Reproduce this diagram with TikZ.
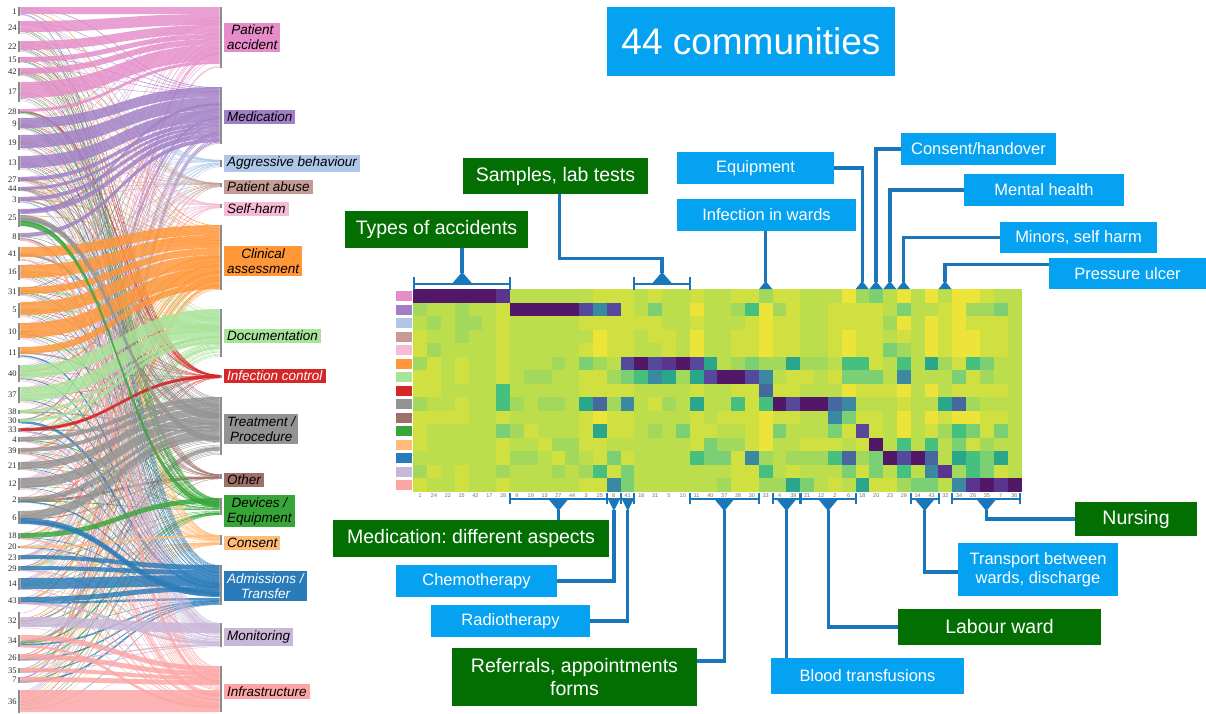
\documentclass[tikz,border=0pt]{standalone}
\usepackage{fontspec}
\setmainfont{Liberation Sans}
\newfontfamily\serifnum{Liberation Serif}
\frenchspacing
\definecolor{cat0}{HTML}{E58CC9}
\definecolor{cat1}{HTML}{A17FC6}
\definecolor{cat2}{HTML}{AEC7E8}
\definecolor{cat3}{HTML}{C49C94}
\definecolor{cat4}{HTML}{F7BBD6}
\definecolor{cat5}{HTML}{FF9638}
\definecolor{cat6}{HTML}{A8E39A}
\definecolor{cat7}{HTML}{D62728}
\definecolor{cat8}{HTML}{939393}
\definecolor{cat9}{HTML}{A07068}
\definecolor{cat10}{HTML}{38A538}
\definecolor{cat11}{HTML}{FFBB78}
\definecolor{cat12}{HTML}{2A7BB9}
\definecolor{cat13}{HTML}{C9B6D9}
\definecolor{cat14}{HTML}{FCA5A4}
\definecolor{hmY}{HTML}{EDE43A}
\definecolor{hmy}{HTML}{D0E040}
\definecolor{hmg}{HTML}{BCDD4C}
\definecolor{hmG}{HTML}{A2D95C}
\definecolor{hmm}{HTML}{7AD072}
\definecolor{hmt}{HTML}{45C07F}
\definecolor{hmT}{HTML}{2AA68A}
\definecolor{hmc}{HTML}{3A89A0}
\definecolor{hmb}{HTML}{46689E}
\definecolor{hmp}{HTML}{56489A}
\definecolor{hmP}{HTML}{5B3490}
\definecolor{hmd}{HTML}{531767}
\definecolor{cblue}{HTML}{06A2F2}
\definecolor{cgreen}{HTML}{036F03}
\definecolor{conblue}{HTML}{1A76BB}
\makeatletter
\newcount\hmcol
\newcommand\hmrow[2]{\global\hmcol=0 \hm@loop{#1}#2\relax}
\def\hm@loop#1#2{%
  \ifx\relax#2\let\hm@next\relax\else
    \edef\hm@c{\the\hmcol}%
    \ifnum\hmcol<44 \hmaction{#1}{\hm@c}{#2}\fi
    \global\advance\hmcol by 1
    \def\hm@next{\hm@loop{#1}}%
  \fi\hm@next}
\makeatother
\newcommand\allrows{%
\hmrow{0}{ddddddPgggg ggyyygyggyg gyyGyygggYG mgYgYgYYygg}%
\hmrow{1}{GggGggydddd dpcpygmggYg gGtYGyggyyy ygmggyYGGmg}%
\hmrow{2}{gGgGGgygggg gyyyyyyggyg ggyYyyggyyy yGYgYyYyyyg}%
\hmrow{3}{yggGggygggg ggYyygyygYg gyyYyyggyYy ygygYyYYyyg}%
\hmrow{4}{yGggggygggg gyYyyggygYg gyyYyyggyYy ymGgYyYYyyg}%
\hmrow{5}{GygyggygggG gmGgpdpPdpT gGmGGTGGgtt ygtgTGytmgg}%
\hmrow{6}{yygyggygGGg gyyGmtcTGTp ddpcgyygymm mgcgggmyGgg}%
\hmrow{7}{yyggggtgggg gyyyyggggyg gyybyygggYy yyYgYgyyyyg}%
\hmrow{8}{GggyggtGgGG gTbGcgyGgTg gtytdpddbcg ggyggTbGggg}%
\hmrow{9}{yyyyggygggg gyYyyggggyg yyyYyyggcmy ygYgYyYYyyg}%
\hmrow{10}{ygggggmGygg gyTyygGgmyy ggyYmgggmyp ygYgyGtmymg}%
\hmrow{11}{ygggggyggyG Gyyggggggym GGyYggyyygy dgtgtgmyGgg}%
\hmrow{12}{ggggggyGGgy Ggymyggggtm mycGgGGGtbG mdpdbgTtmTg}%
\hmrow{13}{GygyggGgggG gGtymgggggg gyytgygggmy mgtgcPGtmyg}%
\hmrow{14}{yggyggygggg gyycmgggggg GyyGGTmgygT yyGmmgcPdPd}}
\newcommand\ribbon[5]{\fill[#5,opacity=.82] (20.3,#1) .. controls (120,#1) and (120,#3) .. (219.5,#3) -- (219.5,#4) .. controls (120,#4) and (120,#2) .. (20.3,#2) -- cycle;}
\begin{document}
\begin{tikzpicture}[x=1pt,y=-1pt,
  con/.style={conblue,line width=3.4pt},
  brk/.style={conblue,line width=2pt},
  bluebox/.style={fill=cblue,text=white,font=\fontsize{16.5}{19}\selectfont,inner sep=0pt,align=center},
  greenbox/.style={fill=cgreen,text=white,font=\fontsize{19.5}{23}\selectfont,inner sep=0pt,align=center},
  catlab/.style={anchor=west,font=\fontsize{13.5}{15}\selectfont\itshape,inner xsep=3pt,inner ysep=2.5pt,align=center},
  numlab/.style={anchor=east,font=\serifnum\fontsize{8.5}{9}\selectfont,inner sep=0pt,text=black!85},
  collab/.style={font=\fontsize{5.5}{6}\selectfont,text=black!55,inner sep=0pt}]
\useasboundingbox (0,0) rectangle (1206,713);
\fill[white] (0,0) rectangle (1206,713);
\def\LY{{11.5,27.5,46.5,60,72,92,111.5,124,142.5,163,179.5,189,200,218,236.5,254,272,291.5,310,331.5,352.5,373.5,395,412,421,430,439.5,451,466,484,500,517.5,536,547,557.5,568.5,584,600.5,620.5,641,657.5,670.5,680,701.5}}
\def\LH{{9,13,11,6,8,20,5,12,15,14,5,4,6,18,7,14,15,9,15,17,11,17,16,4,4,4,5,6,8,12,6,13,6,2,5,5,12,7,17,12,7,5,6,23}}
\def\CT{{7,87,160,183,204,225,309,375,397,474,498,535,565,623,666}}
\def\CB{{68,144,167,187,208,290,357,378,455,479,515,545,605,647,712}}
% sankey thin flows
\def\skwb{2.4pt}\def\skwc{2.4pt}\def\skwT{1.6pt}\def\skwt{1.3pt}\def\skwm{0.85pt}\def\skwG{0.6pt}\def\skwg{0.4pt}
\def\hmaction#1#2#3{\ifcsname skw#3\endcsname
  \pgfmathsetmacro\sly{\LY[#2]+\LH[#2]*((#1-7)/16)}%
  \pgfmathsetmacro\sty{\CT[#1]+(\CB[#1]-\CT[#1])*(#2+0.5)/44}%
  \draw[cat#1,line width=\csname skw#3\endcsname,opacity=.8] (20.3,\sly) .. controls (120,\sly) and (120,\sty) .. (219.5,\sty);%
  \fi}
\allrows
% main ribbons
\ribbon{7}{14}{7}{14}{cat0}
\ribbon{21}{32}{14}{25}{cat0}
\ribbon{41}{50}{25}{34}{cat0}
\ribbon{57}{62}{34}{39}{cat0}
\ribbon{68}{74}{39}{45}{cat0}
\ribbon{82}{98}{45}{61}{cat0}
\ribbon{109}{112}{61}{64}{cat0}
\ribbon{118}{128}{87}{97}{cat1}
\ribbon{135}{148}{97}{110}{cat1}
\ribbon{156}{168}{110}{122}{cat1}
\ribbon{177}{181}{122}{126}{cat1}
\ribbon{187}{190}{126}{129}{cat1}
\ribbon{197}{201}{129}{133}{cat1}
\ribbon{209}{214}{133}{138}{cat1}
\ribbon{233}{237}{138}{142}{cat1}
\ribbon{247}{257}{225}{235}{cat5}
\ribbon{265}{278}{235}{248}{cat5}
\ribbon{287}{294}{248}{255}{cat5}
\ribbon{302}{315}{255}{268}{cat5}
\ribbon{323}{338}{268}{283}{cat5}
\ribbon{347}{354}{283}{289}{cat5}
\ribbon{365}{378}{309}{322}{cat6}
\ribbon{387}{401}{322}{336}{cat6}
\ribbon{410}{413}{336}{340}{cat6}
\ribbon{419}{422}{340}{344}{cat6}
\ribbon{428}{431}{375}{378}{cat7}
\ribbon{437}{441}{397}{402}{cat8}
\ribbon{448}{452}{402}{407}{cat8}
\ribbon{462}{469}{407}{415}{cat8}
\ribbon{478}{488}{415}{425}{cat8}
\ribbon{497}{501}{425}{429}{cat8}
\ribbon{511}{518}{429}{436}{cat8}
\ribbon{215}{221}{436}{442}{cat8}
\ribbon{221}{226}{503}{508}{cat10}
\ribbon{533}{538}{498}{503}{cat10}
\ribbon{546}{548}{535}{537}{cat11}
\ribbon{555}{559}{565}{570}{cat12}
\ribbon{566}{570}{570}{575}{cat12}
\ribbon{578}{589}{575}{586}{cat12}
\ribbon{597}{602}{586}{591}{cat12}
\ribbon{518}{524}{591}{597}{cat12}
\ribbon{617}{627}{623}{633}{cat13}
\ribbon{635}{640}{666}{671}{cat14}
\ribbon{654}{659}{671}{676}{cat14}
\ribbon{668}{672}{676}{680}{cat14}
\ribbon{677}{682}{680}{685}{cat14}
\ribbon{690}{712}{690}{712}{cat14}
% left nodes, numbers, column labels
\foreach \lab [count=\i from 0] in {1,24,22,15,42,17,28,9,19,13,27,44,3,25,8,41,16,31,5,10,11,40,37,38,30,33,4,39,21,12,2,6,18,20,23,29,14,43,32,34,26,35,7,36} {
  \pgfmathsetmacro\yc{\LY[\i]}\pgfmathsetmacro\hh{\LH[\i]}
  \fill[black!45] (18.3,{\yc-\hh/2}) rectangle (20.3,{\yc+\hh/2});
  \node[numlab] (n\lab) at (16.8,\yc) {\lab};
  \node[collab] (c\lab) at ({413.3+13.82*(\i+0.5)},495.5) {\lab};
}
% category bars
\foreach \t/\b in {7/68,87/144,160/167,183/187,204/208,225/290,309/357,375/378,397/455,474/479,498/515,535/545,565/605,623/647,666/712}
  \fill[black!45] (219.5,\t) rectangle (222,\b);
% category labels
\node[catlab,fill=cat0] (lpa) at (224,37.5) {Patient\\accident};
\node[catlab,fill=cat1] (lmed) at (224,117) {Medication};
\node[catlab,fill=cat2] (lagg) at (224,163.5) {Aggressive behaviour};
\node[catlab,fill=cat3] (labu) at (224,187) {Patient abuse};
\node[catlab,fill=cat4] (lsh) at (224,209) {Self-harm};
\node[catlab,fill=cat5] (lcli) at (224,261) {Clinical\\assessment};
\node[catlab,fill=cat6] (ldoc) at (224,336) {Documentation};
\node[catlab,fill=cat7,text=white] (linf) at (224,376) {Infection control};
\node[catlab,fill=cat8] (ltre) at (224,429) {Treatment /\\Procedure};
\node[catlab,fill=cat9] (loth) at (224,480) {Other};
\node[catlab,fill=cat10] (ldev) at (224,511) {Devices /\\Equipment};
\node[catlab,fill=cat11] (lcon) at (224,543) {Consent};
\node[catlab,fill=cat12,text=white] (ladm) at (224,586) {Admissions /\\Transfer};
\node[catlab,fill=cat13] (lmon) at (224,637) {Monitoring};
\node[catlab,fill=cat14] (linfr) at (224,691.5) {Infrastructure};
% heatmap
\def\hmaction#1#2#3{\fill[hm#3] ({413.3+#2*13.82},{289.3+#1*13.5}) rectangle ++(13.95,13.65);}
\allrows
\foreach \r in {0,...,14} \fill[cat\r] (396,{289.3+13.5*\r+1.7}) rectangle ++(16,10);
% brackets
\newcommand\topbr[3]{%
  \draw[brk] (#1,277) -- (#1,290) (#1,283.5) -- (#2,283.5) (#2,277) -- (#2,290);
  \pgfmathsetmacro\xm{(#1+#2)/2}
  \fill[conblue] ({\xm-10},283.5) -- (\xm,272) -- ({\xm+10},283.5) -- cycle;
  \coordinate (#3) at (\xm,273);}
\newcommand\botbr[4]{%
  \draw[brk] (#1,493) -- (#1,504) (#1,499) -- (#2,499) (#2,493) -- (#2,504);
  \pgfmathsetmacro\xm{(#1+#2)/2}
  \fill[conblue] ({\xm-#4},499) -- (\xm,511) -- ({\xm+#4},499) -- cycle;
  \coordinate (#3) at (\xm,510);}
\newcommand\toptri[2]{\fill[conblue] ({#1-6.5},289) -- (#1,281) -- ({#1+6.5},289) -- cycle; \coordinate (#2) at (#1,282);}
\topbr{414.3}{510}{tb1}
\topbr{634.4}{689.7}{tb2}
\toptri{765.7}{tp33}
\toptri{862.2}{tp18}
\toptri{876}{tp20}
\toptri{889.8}{tp23}
\toptri{903.6}{tp29}
\toptri{945}{tp32}
\botbr{510}{606.8}{bmed}{10}
\botbr{607.3}{620.6}{b8}{6}
\botbr{621.1}{634.4}{b41}{6}
\botbr{689.7}{758.8}{bref}{10}
\botbr{772.6}{800.3}{bblood}{10}
\botbr{800.8}{855.6}{blab}{10}
\botbr{910.8}{938.5}{btr}{10}
\botbr{952.3}{1020.4}{bnur}{10}
% callouts
\node[bluebox,minimum width=288pt,minimum height=69pt,font=\fontsize{37}{40}\selectfont] (title) at (751,41.5) {44 communities};
\node[greenbox,minimum width=185pt,minimum height=36pt] (samples) at (555.5,176) {Samples, lab tests};
\node[greenbox,minimum width=183pt,minimum height=37pt] (types) at (436.5,229.5) {Types of accidents};
\node[bluebox,minimum width=157pt,minimum height=32pt] (equip) at (755.5,168) {Equipment};
\node[bluebox,minimum width=179pt,minimum height=32pt] (infw) at (766.5,215) {Infection in wards};
\node[bluebox,minimum width=155pt,minimum height=32pt] (consent) at (978.5,149) {Consent/handover};
\node[bluebox,minimum width=160pt,minimum height=32pt] (mental) at (1044,190) {Mental health};
\node[bluebox,minimum width=157pt,minimum height=31pt] (minors) at (1078.5,237.5) {Minors, self harm};
\node[bluebox,minimum width=157pt,minimum height=31pt] (pressure) at (1127.5,273.5) {Pressure ulcer};
\node[greenbox,minimum width=276pt,minimum height=37pt] (medasp) at (471,538.5) {Medication: different aspects};
\node[bluebox,minimum width=161pt,minimum height=32pt] (chemo) at (476.5,581) {Chemotherapy};
\node[bluebox,minimum width=159pt,minimum height=32pt] (radio) at (510.5,621) {Radiotherapy};
\node[greenbox,minimum width=245pt,minimum height=58pt] (refer) at (574.5,677) {Referrals, appointments\\forms};
\node[bluebox,minimum width=193pt,minimum height=36pt] (blood) at (867.5,676) {Blood transfusions};
\node[greenbox,minimum width=203pt,minimum height=36pt] (labour) at (999.5,627) {Labour ward};
\node[bluebox,minimum width=160pt,minimum height=53pt] (transport) at (1038,569.5) {Transport between\\wards, discharge};
\node[greenbox,minimum width=122pt,minimum height=34pt] (nursing) at (1136,519) {Nursing};
% connectors
\draw[con] ([xshift=4pt]samples.south) |- ([yshift=14.3pt]tb2) -- (tb2);
\draw[con] (types.south -| tb1) -- (tb1);
\draw[con] (infw.south -| tp33) -- (tp33);
\draw[con] (equip.east) -| (tp18);
\draw[con] (consent.west) -| (tp20);
\draw[con] (mental.west) -| (tp23);
\draw[con] (minors.west) -| (tp29);
\draw[con] ([yshift=9pt]pressure.west) -| (tp32);
\draw[con] (bmed) -- (medasp.north -| bmed);
\draw[con] (chemo.east) -| (b8);
\draw[con] (radio.east) -| (b41);
\draw[con] ([yshift=16pt]refer.east) -| (bref);
\draw[con] (bblood) -- (blood.north -| bblood);
\draw[con] (labour.west) -| (blab);
\draw[con] ([yshift=-2.5pt]transport.west) -| (btr);
\draw[con] (nursing.west) -| (bnur);
\end{tikzpicture}
\end{document}
